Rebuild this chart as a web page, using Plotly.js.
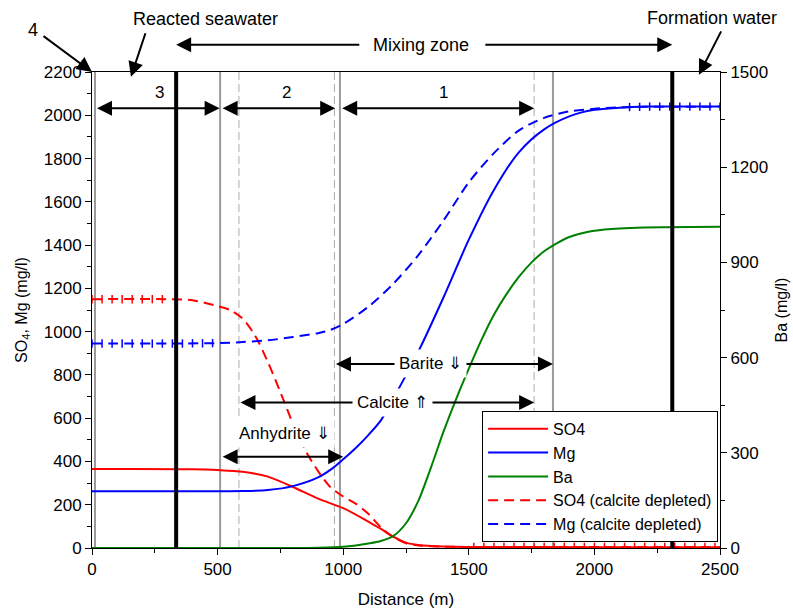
<!DOCTYPE html>
<html>
<head>
<meta charset="utf-8">
<script src="https://cdn.plot.ly/plotly-3.0.1.min.js"></script>
<style>html,body{margin:0;padding:0;background:#fff}#chart{width:793px;height:611px}</style>
</head>
<body>
<div id="chart"></div>
<script>
// ---- data ----
const so4X = [0, 400, 500, 600, 700, 800, 900, 1000, 1100, 1150, 1200, 1250, 1300, 1400, 1500, 2000, 2500];
const so4 = [365, 364, 360, 352, 330, 282, 228, 184, 122, 88, 52, 25, 14, 7, 5, 4, 4];

const mgX = [0, 500, 600, 700, 800, 900, 950, 1000, 1050, 1100, 1150, 1200, 1300, 1400, 1500, 1600, 1700, 1800, 1900, 2000, 2100, 2200, 2500];
const mg = [262, 262, 263, 268, 286, 326, 362, 410, 462, 522, 590, 692, 910, 1160, 1425, 1655, 1830, 1935, 1995, 2025, 2035, 2040, 2040];

const baX = [0, 800, 900, 1000, 1050, 1100, 1150, 1200, 1250, 1300, 1350, 1400, 1450, 1500, 1550, 1600, 1650, 1700, 1750, 1800, 1850, 1900, 1950, 2000, 2100, 2200, 2500];
const ba = [0, 0, 1, 4, 8, 14, 22, 38, 78, 150, 255, 368, 470, 565, 655, 735, 800, 855, 900, 935, 960, 980, 992, 1000, 1007, 1010, 1012];

const so4DepX = [0, 300, 400, 500, 550, 600, 650, 700, 750, 800, 850, 900, 950, 1000, 1050, 1100, 1150, 1200, 1250, 1300, 1400, 1500, 2500];
const so4Dep = [1150, 1150, 1145, 1118, 1100, 1060, 980, 860, 720, 575, 450, 355, 280, 238, 205, 158, 95, 50, 22, 12, 6, 5, 4];

const mgDepX = [0, 500, 600, 700, 800, 900, 950, 1000, 1100, 1200, 1300, 1400, 1500, 1600, 1700, 1800, 1900, 2000, 2100, 2500];
const mgDep = [945, 947, 952, 960, 975, 993, 1008, 1035, 1115, 1222, 1355, 1515, 1690, 1825, 1930, 1988, 2018, 2030, 2037, 2040];

// cell points drawn on the flat parts of the calcite-depleted runs
const so4DepPtsX = [0, 40, 80, 120, 160, 200, 240, 280, 1520, 1560, 1600, 1640, 1680, 1720, 1760, 1800, 1840, 1880, 1920, 1960, 2000, 2040, 2080, 2120, 2160, 2200, 2240, 2280, 2320, 2360, 2400, 2440, 2480];
const so4DepPts = [1150, 1150, 1150, 1150, 1150, 1150, 1150, 1150, 5, 5, 5, 5, 5, 5, 5, 5, 5, 5, 5, 5, 5, 5, 5, 5, 5, 5, 5, 5, 5, 5, 5, 5, 5];
const mgDepPtsX = [0, 40, 80, 120, 160, 200, 240, 280, 320, 360, 400, 440, 480, 2140, 2180, 2220, 2260, 2300, 2340, 2380, 2420, 2460, 2500];
const mgDepPts = [945, 945, 945, 945, 945, 945, 945, 945, 945, 945, 946, 946, 947, 2038, 2039, 2040, 2040, 2040, 2040, 2040, 2040, 2040, 2040];

const seriesNames = ['SO4', 'Mg', 'Ba', 'SO4 (calcite depleted)', 'Mg (calcite depleted)'];

// vertical boundaries (m)
const boundarySolid = [12, 510, 987, 1835];
const boundaryDashed = [585, 965, 1760];
const boundaryThick = [335, 2310];

// numbered zones
const zoneLabels = ['3', '2', '1'];
const zoneStart = [14, 514, 990];
const zoneEnd = [508, 968, 1760];
const zoneLabelX = [270, 776, 1400];
const zoneArrowY = 2032;
const zoneLabelY = 2105;

// mineral zones
const minLabels = ['Barite \u21D3', 'Calcite \u21D1', 'Anhydrite \u21D3'];
const minStart = [965, 585, 514];
const minEnd = [1835, 1760, 1000];
const minArrowY = [850, 673, 422];
const minLabelX = [1349, 1198, 768];
const minLabelY = [852, 673, 531];

const FONT = 'Liberation Sans, Arial, Helvetica, sans-serif';
const RED = '#ff0000', BLUE = '#0000ff', GREEN = '#008000';

const traces = [
  {x: so4X, y: so4, name: seriesNames[0], mode: 'lines', line: {color: RED, width: 2, shape: 'spline', smoothing: 0.8}},
  {x: mgX, y: mg, name: seriesNames[1], mode: 'lines', line: {color: BLUE, width: 2, shape: 'spline', smoothing: 0.8}},
  {x: baX, y: ba, name: seriesNames[2], yaxis: 'y2', mode: 'lines', line: {color: GREEN, width: 2, shape: 'spline', smoothing: 0.8}},
  {x: so4DepX, y: so4Dep, name: seriesNames[3], mode: 'lines', line: {color: RED, width: 2, dash: '10px,6px', shape: 'spline', smoothing: 0.8}},
  {x: mgDepX, y: mgDep, name: seriesNames[4], mode: 'lines', line: {color: BLUE, width: 2, dash: '10px,6px', shape: 'spline', smoothing: 0.8}},
  {x: so4DepPtsX, y: so4DepPts, mode: 'markers', showlegend: false, hoverinfo: 'skip',
    marker: {symbol: 'line-ns', size: 6, line: {color: RED, width: 1.5}}},
  {x: mgDepPtsX, y: mgDepPts, mode: 'markers', showlegend: false, hoverinfo: 'skip',
    marker: {symbol: 'line-ns', size: 6, line: {color: BLUE, width: 1.5}}}
];

const shapes = [];
boundarySolid.forEach(v => shapes.push({type: 'line', xref: 'x', yref: 'paper', x0: v, x1: v, y0: 0, y1: 1, line: {color: '#9a9a9a', width: 2}, layer: 'below'}));
boundaryDashed.forEach(v => shapes.push({type: 'line', xref: 'x', yref: 'paper', x0: v, x1: v, y0: 0, y1: 1, line: {color: '#aaaaaa', width: 1, dash: '8px,4px'}, layer: 'below'}));
boundaryThick.forEach(v => shapes.push({type: 'line', xref: 'x', yref: 'paper', x0: v, x1: v, y0: 0, y1: 1, line: {color: '#000000', width: 4}, layer: 'above'}));

const annotations = [];
const AS = 1.5;
function dblArrow(x0, x1, y) {
  annotations.push({x: x1, y: y, ax: x0, ay: y, xref: 'x', yref: 'y', axref: 'x', ayref: 'y', text: '',
    showarrow: true, arrowside: 'end+start', arrowhead: 2, startarrowhead: 2,
    arrowsize: AS, startarrowsize: AS, arrowwidth: 2, arrowcolor: '#000'});
}
zoneLabels.forEach((t, i) => {
  dblArrow(zoneStart[i], zoneEnd[i], zoneArrowY);
  annotations.push({x: zoneLabelX[i], y: zoneLabelY, xref: 'x', yref: 'y', text: t, showarrow: false, font: {size: 17, color: '#000', family: FONT}});
});
minLabels.forEach((t, i) => dblArrow(minStart[i], minEnd[i], minArrowY[i]));
minLabels.forEach((t, i) => annotations.push({x: minLabelX[i], y: minLabelY[i], xref: 'x', yref: 'y', text: t, showarrow: false,
  bgcolor: '#ffffff', borderpad: 4, font: {size: 17, color: '#000', family: FONT}}));

// labels above the plot
const topFont = {size: 18, color: '#000', family: FONT};
function topText(x, xref, y, t) {
  annotations.push({x: x, y: y, xref: xref, yref: 'paper', text: t, showarrow: false, xanchor: 'center', yanchor: 'middle', font: topFont});
}
function topArrow(x, xref, y, ax, ay, axref) {
  const a = {x: x, y: y, ax: ax, ay: ay, xref: xref, yref: 'paper', text: '',
    showarrow: true, arrowhead: 2, arrowsize: AS, arrowwidth: 2, arrowcolor: '#000'};
  if (axref) { a.axref = axref; a.ayref = 'pixel'; }
  annotations.push(a);
}
topText(1310, 'x', 1.057, 'Mixing zone');
topArrow(boundaryThick[0], 'x', 1.057, 1070, 0, 'x');
topArrow(boundaryThick[1], 'x', 1.057, 1560, 0, 'x');
topText(450, 'x', 1.111, 'Reacted seawater');
topArrow(155, 'x', 0.99, 15, -45);
topText(2470, 'x', 1.113, 'Formation water');
topArrow(2416, 'x', 0.994, 23, -45);
topText(-0.094, 'paper', 1.088, '4');
topArrow(0, 'paper', 1.0, -50, -37);

const tickFont = {size: 17, color: '#000', family: FONT};
const titleFont = {size: 16, color: '#000', family: FONT};
const layout = {
  width: 793, height: 611,
  margin: {l: 92, r: 73, t: 72, b: 63},
  paper_bgcolor: '#ffffff', plot_bgcolor: '#ffffff',
  font: {family: FONT, color: '#000'},
  showlegend: true,
  legend: {x: 0.997, xanchor: 'right', y: 0.288, yanchor: 'top', bgcolor: '#ffffff', bordercolor: '#000', borderwidth: 1,
    font: {size: 16, color: '#000', family: FONT}, itemwidth: 60},
  xaxis: {range: [0, 2500], dtick: 500, tick0: 0, showgrid: false, zeroline: false,
    showline: true, linecolor: '#000', linewidth: 1, mirror: true,
    ticks: 'outside', ticklen: 6, tickcolor: '#000', tickfont: tickFont,
    minor: {dtick: 250, ticks: 'outside', ticklen: 4, tickcolor: '#000'},
    title: {text: 'Distance (m)', font: {size: 17, color: '#000', family: FONT}, standoff: 14}},
  yaxis: {range: [0, 2200], dtick: 200, tick0: 0, showgrid: false, zeroline: false,
    showline: true, linecolor: '#000', linewidth: 1,
    ticks: 'outside', ticklen: 6, tickcolor: '#000', tickfont: tickFont,
    minor: {dtick: 100, ticks: 'outside', ticklen: 4, tickcolor: '#000'},
    title: {text: 'SO<sub>4</sub>, Mg (mg/l)', font: titleFont, standoff: 12}},
  yaxis2: {range: [0, 1500], dtick: 300, tick0: 0, overlaying: 'y', side: 'right', showgrid: false, zeroline: false,
    showline: true, linecolor: '#000', linewidth: 1,
    ticks: 'outside', ticklen: 6, tickcolor: '#000', tickfont: tickFont,
    minor: {dtick: 150, ticks: 'outside', ticklen: 4, tickcolor: '#000'},
    title: {text: 'Ba (mg/l)', font: titleFont, standoff: 8}},
  shapes: shapes,
  annotations: annotations
};

Plotly.newPlot('chart', traces, layout, {displayModeBar: false, staticPlot: true});
</script>
</body>
</html>
